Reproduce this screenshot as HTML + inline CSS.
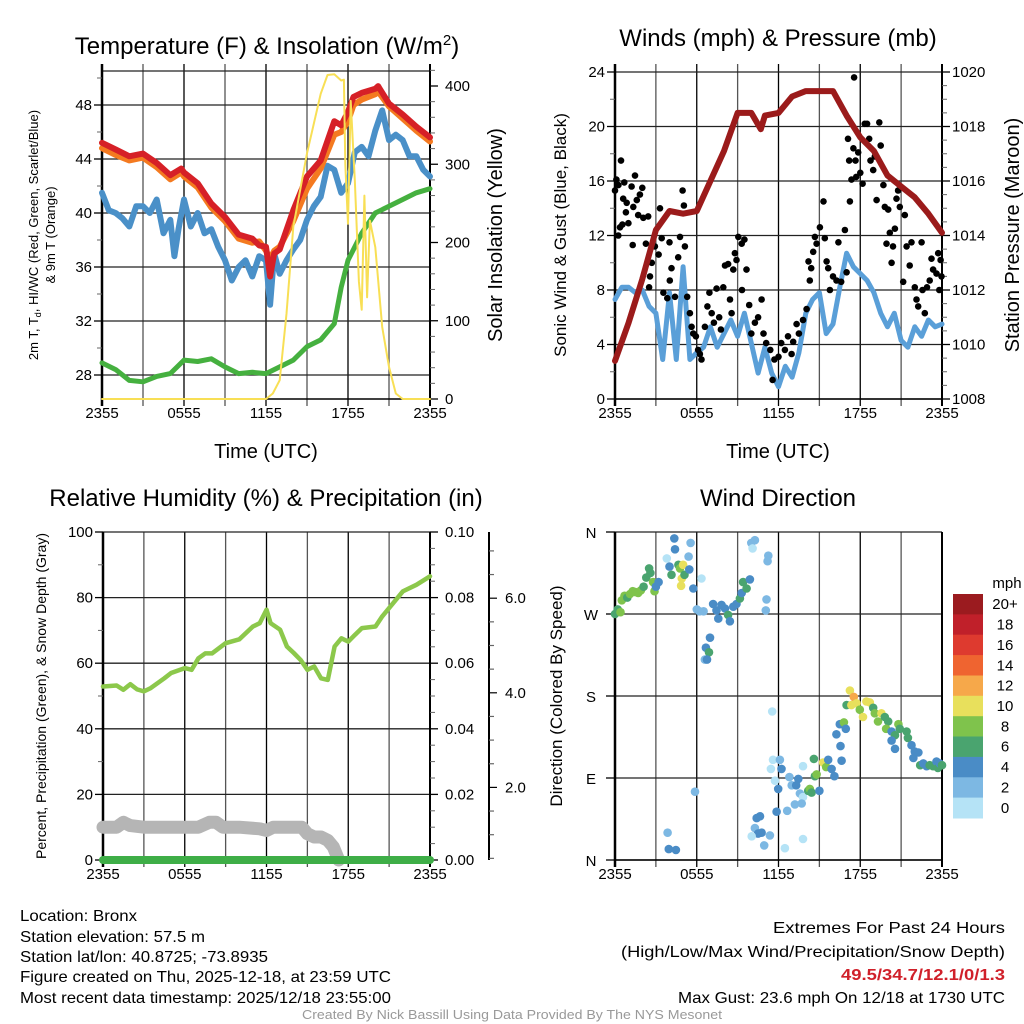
<!DOCTYPE html>
<html><head><meta charset="utf-8"><style>
html,body{margin:0;padding:0;background:#fff}
svg{display:block;font-family:"Liberation Sans",sans-serif}
</style></head><body>
<svg id="fig" width="1024" height="1024" viewBox="0 0 1024 1024" xmlns="http://www.w3.org/2000/svg">
<g id="g1"></g>
<g id="g2"></g>
<g id="g3"></g>
<g id="g4"></g>
<text x="267" y="54" font-size="24" text-anchor="middle">Temperature (F) &amp; Insolation (W/m<tspan dy="-9" font-size="15">2</tspan><tspan dy="9">)</tspan></text>
<text x="778" y="46" font-size="24" text-anchor="middle">Winds (mph) &amp; Pressure (mb)</text>
<text x="266" y="506" font-size="24" text-anchor="middle">Relative Humidity (%) &amp; Precipitation (in)</text>
<text x="778" y="506" font-size="24" text-anchor="middle">Wind Direction</text>
<g font-size="16">
<text x="20" y="921" textLength="117" lengthAdjust="spacingAndGlyphs">Location: Bronx</text>
<text x="20" y="942" textLength="185" lengthAdjust="spacingAndGlyphs">Station elevation: 57.5 m</text>
<text x="20" y="962" textLength="248" lengthAdjust="spacingAndGlyphs">Station lat/lon: 40.8725; -73.8935</text>
<text x="20" y="982" textLength="371" lengthAdjust="spacingAndGlyphs">Figure created on Thu, 2025-12-18, at 23:59 UTC</text>
<text x="20" y="1003" textLength="371" lengthAdjust="spacingAndGlyphs">Most recent data timestamp: 2025/12/18 23:55:00</text>
</g>
<g font-size="16">
<text x="773" y="933" textLength="232" lengthAdjust="spacingAndGlyphs">Extremes For Past 24 Hours</text>
<text x="621" y="957" textLength="384" lengthAdjust="spacingAndGlyphs">(High/Low/Max Wind/Precipitation/Snow Depth)</text>
<text x="841" y="980" fill="#d0202a" font-weight="bold" textLength="164" lengthAdjust="spacingAndGlyphs">49.5/34.7/12.1/0/1.3</text>
<text x="678" y="1003" textLength="327" lengthAdjust="spacingAndGlyphs">Max Gust: 23.6 mph On 12/18 at 1730 UTC</text>
</g>
<text x="302" y="1019" font-size="13" fill="#999" textLength="420" lengthAdjust="spacingAndGlyphs">Created By Nick Bassill Using Data Provided By The NYS Mesonet</text>
</svg>
<script>
// ---------- DATA ----------
const xTickLabels = ["2355","0555","1155","1755","2355"];
// Panel 1
const tempTicks = [28,32,36,40,44,48];
const solarTicks = [0,100,200,300,400];
const redT = [0,1,2,3,4,5,5.8,6,7,8,9,10,11,11.5,12,12.3,12.6,13,14,15,16,17,17.5,18,18.4,19,20,20.2,21,22,23,24];
const redV = [45.2,44.7,44.2,44.4,43.7,42.8,43.3,43.0,42.2,40.7,39.7,38.4,38.1,37.6,37.5,35.3,37.0,37.3,40.2,42.7,43.9,46.8,46.5,47.5,48.6,48.9,49.2,49.4,48.1,47.3,46.4,45.6];
const orangeV = [44.8,44.3,43.9,44.1,43.4,42.5,43.0,42.7,41.9,40.4,39.4,38.1,37.8,37.9,37.2,36.6,37.2,37.5,39.4,41.8,43.3,45.8,46.0,46.8,48.0,48.4,48.8,49.0,47.9,47.0,46.1,45.3];
const blueT = [0,0.5,1,1.5,2,2.5,3,3.5,4,4.5,5,5.3,5.6,6,6.5,7,7.5,8,8.5,9,9.5,10,10.5,11,11.5,12,12.3,12.6,13,13.5,14,14.5,15,15.5,16,16.5,17,17.5,18,18.5,19,19.5,20,20.5,21,21.5,22,22.5,23,23.5,24];
const blueV = [41.5,40.2,40.0,39.6,39.0,40.5,40.5,40.0,41.0,38.5,39.5,36.8,38.8,41.0,39.0,40.0,38.5,38.8,37.5,36.5,35.0,36.0,36.5,35.3,36.8,36.5,33.2,37.0,35.5,36.5,37.3,38.0,39.5,40.5,41.2,43.5,43.2,41.5,42.2,44.5,44.9,44.2,46.1,47.6,45.4,45.8,45.4,44.2,44.2,43.2,42.7];
const dewT = [0,1,2,3,4,5,6,7,8,9,10,11,12,13,14,15,16,17,17.5,18,19,20,21,22,23,24];
const dewV = [28.9,28.4,27.6,27.5,27.9,28.1,29.1,29.0,29.2,28.6,28.1,28.2,28.1,28.6,29.1,30.1,30.6,31.8,34.5,36.5,38.5,40.0,40.5,41.0,41.5,41.8];
const solarT = [0,12,12.5,13,13.5,14,15,16,16.5,17,17.5,17.7,17.8,18,18.2,18.5,18.8,19,19.2,19.4,19.6,20,20.5,21,21.5,22,24];
const solarV = [0,0,7,24,109,220,314,390,414,415,407,408,300,224,381,280,150,114,260,130,228,194,92,41,7,0,0];
// Panel 2
const windTicks = [0,4,8,12,16,20,24];
const presTicks = [1008,1010,1012,1014,1016,1018,1020];
const presT = [0,1,2,3,4,5,6,7,8,9,10,10.7,11,12,13,14,15,16,17,18,19,20,21,22,23,24];
const presV = [1009.4,1010.8,1012.4,1014.2,1014.9,1014.8,1014.9,1016.0,1017.1,1018.5,1018.5,1017.9,1018.4,1018.5,1019.1,1019.3,1019.3,1019.3,1018.4,1017.6,1017.1,1016.2,1015.8,1015.4,1014.8,1014.1];
const sonicT = [0,0.5,1,1.5,2,2.5,3,3.5,4,4.5,5,5.5,6,6.5,7,7.5,8,8.5,9,9.5,10,10.5,11,11.5,12,12.5,13,13.5,14,14.5,15,15.5,16,16.5,17,17.5,18,18.5,19,19.5,20,20.5,21,21.5,22,22.5,23,23.5,24];
const sonicV = [7.3,8.2,8.2,7.8,8.0,6.8,6.3,2.9,7.8,2.9,9.7,2.9,3.4,3.8,5.3,3.8,4.8,5.8,4.6,6.3,4.1,1.9,3.8,1.9,0.9,2.4,1.6,3.4,6.3,7.3,7.8,4.8,5.5,8.2,10.7,9.7,9.2,8.7,7.8,6.3,5.3,6.3,4.3,3.8,5.3,4.6,5.8,5.3,5.5];
const gustT = [0,0.1,0.25,0.44,0.37,0.24,0.54,0.68,0.6,0.86,0.8,0.98,1.22,1.3,1.34,1.47,1.6,1.7,1.83,2.0,2.08,2.27,2.44,2.57,2.5,2.7,2.93,3.2,3.3,3.43,3.55,3.84,4.0,4.15,4.02,4.4,4.64,4.77,4.96,5.06,5.13,5.3,5.5,5.62,5.75,5.94,6.1,6.23,6.35,6.6,6.78,6.93,7.1,7.26,7.46,7.65,7.77,7.95,8.07,8.3,8.44,8.56,8.68,8.8,8.92,9.05,9.3,9.5,9.65,9.32,9.85,10.0,10.27,10.5,10.76,10.9,11.1,11.4,11.57,11.7,12.0,12.2,12.47,12.7,12.96,13.08,13.33,13.5,13.8,14.06,14.2,14.4,14.3,14.55,14.67,14.8,15.04,15.3,15.4,15.53,15.65,15.77,16.0,16.26,16.4,16.6,16.87,17.0,17.1,17.19,17.24,17.36,17.5,17.55,17.65,17.7,17.85,18.0,18.17,18.33,18.5,18.66,18.75,18.95,19.07,19.2,19.4,19.5,19.7,19.8,20.05,19.93,20.17,20.3,20.4,20.54,20.66,20.78,20.9,21.15,21.27,21.4,21.63,21.76,22.0,22.13,22.25,22.5,22.57,22.74,22.9,23.1,23.23,23.35,23.6,23.72,23.8,23.9,23.96];
const gustV = [15.3,16.1,15.7,17.5,12.6,12.0,12.8,15.9,14.7,14.4,13.7,12.9,15.6,11.3,14.1,16.4,14.6,13.5,15.0,15.5,13.3,11.4,13.4,9.0,8.2,10.0,11.2,10.6,14.0,11.8,7.8,7.4,11.5,9.6,8.7,7.5,10.4,11.9,15.3,14.2,11.2,7.5,6.3,5.3,4.8,4.6,3.6,3.3,2.9,5.3,6.8,7.8,6.3,5.6,8.1,6.0,5.1,8.2,9.8,9.9,7.3,6.3,9.5,10.7,10.2,11.9,11.4,11.7,9.5,8.0,6.9,4.8,5.6,6.0,7.3,4.8,4.1,3.6,1.4,2.9,3.1,4.1,3.6,4.6,3.3,4.2,5.5,4.8,5.8,6.6,10.1,9.6,8.7,10.8,11.9,11.4,12.6,14.5,11.8,10.1,9.6,8.0,9.0,8.7,11.5,8.6,12.4,9.3,19.1,17.5,14.5,16.1,18.4,23.6,17.5,16.3,18.1,16.6,15.8,20.2,20.2,19.1,17.5,16.8,17.8,14.6,20.3,18.6,15.7,14.1,13.9,11.4,12.2,10.0,11.2,12.5,14.7,15.3,14.1,8.6,13.5,11.2,9.8,11.5,8.2,7.3,6.8,11.5,8.0,6.3,8.2,8.7,10.3,9.5,9.2,10.7,8.0,10.2,9.0];
// Panel 3
const rhTicks = [0,20,40,60,80,100];
const precipTicks = ["0.00","0.02","0.04","0.06","0.08","0.10"];
const snowTicks = [2,4,6];
const rhT = [0,1,1.5,2,2.5,3,3.5,4,4.5,5,6,6.5,7,7.5,8,9,10,11,11.5,12,12.3,13,13.5,14,14.5,15,15.5,16,16.5,17,17.5,18,18.5,19,20,20.5,21,22,23,24];
const rhV = [52.9,53.2,51.9,53.6,52.0,51.4,52.4,53.9,55.4,57.0,58.5,58.0,61.5,63.0,63.0,66.1,67.3,71.2,72.2,76.3,72.2,70.2,65.1,63.1,61.0,58.0,59.0,55.4,54.9,65.1,67.6,66.6,68.7,70.7,71.2,74.3,76.8,81.9,83.9,86.5];
const snowT = [0,1,1.5,2,3,5,7,7.8,8.3,8.8,10,11.5,12,12.5,14,14.6,15,15.5,16,16.5,16.9,17.3];
const snowV = [10,10,11.5,10.5,10,10,10,11.5,11.5,10,10,9.5,9,10,10,10,8,7,7,6,4,0];
const precipT = [0,24];
const precipV = [0,0];
// Panel 4
const dirLabels = ["N","E","S","W","N"];
const dirT = [0,0.2,0.4,0.5,0.7,0.9,1.1,1.3,1.5,1.7,1.9,2.1,2.3,2.5,2.6,2.8,2.9,3.0,3.2,3.8,4.0,4.15,4.35,4.4,4.65,4.77,5.0,4.9,4.85,5.1,5.4,5.55,5.45,5.75,6.35,6.0,6.2,6.5,5.87,3.86,3.95,4.47,6.97,6.67,6.6,6.9,6.75,7.2,7.45,7.58,7.82,8.07,8.3,8.43,8.68,8.92,9.17,9.3,9.4,9.66,9.9,10.0,10.27,10.1,11.12,11.07,11.25,11.2,11.54,11.6,11.44,12.1,12.22,11.74,11.98,11.86,12.8,12.97,13.45,13.3,13.57,13.8,13.7,13.2,13.8,12.64,10.4,10.64,10.27,10.5,10.76,10.03,10.95,11.37,12.47,13.8,14.18,14.3,14.43,15.0,14.67,14.8,14.6,15.27,15.5,15.65,15.9,16.1,16.25,16.5,16.8,16.94,16.55,16.63,17.0,17.24,17.53,17.73,17.35,17.97,18.2,18.45,18.7,18.95,19.07,19.3,19.55,19.8,20.05,19.9,20.3,20.55,20.8,20.9,21.4,21.5,20.3,20.55,21.76,22.0,21.9,22.27,22.4,22.63,22.87,23.1,23.35,23.6,23.7,23.83,24];
const dirDeg = [270,275,272,285,290,288,292,295,294,293,296,300,310,320,315,305,295,300,305,331,322,313,353,341,324,320,324,309,301,313,333,348,319,298,309,275,273,273,75,30,12,11,244,233,220,228,220,281,274,265,280,276,269,262,278,281,287,293,305,298,308,348,351,342,286,274,334,328,163,110,100,110,100,87,78,53,91,82,89,82,73,69,62,61,103,54,46,48,35,29,30,26,16,27,13,23,76,78,74,76,92,94,111,107,102,110,100,92,138,149,151,144,125,109,170,186,179,172,170,165,157,174,173,167,161,152,161,157,152,144,141,137,149,144,141,134,131,122,126,119,112,118,104,106,103,104,103,108,101,106,104];
const dirSpd = [7,6,8,8,8,6,8,8,8,8,8,7,6,6,7,8,8,4,4,0,4,6,4,4,6,8,10,10,10,6,2,2,4,4,0,2,2,2,2,2,4,4,4,4,2,6,4,4,4,4,4,4,6,4,4,4,6,4,6,6,4,2,2,0,2,2,2,2,0,0,0,2,4,0,4,4,2,2,4,4,2,0,2,2,0,2,4,4,2,4,4,0,2,2,0,0,6,8,6,4,6,8,6,10,8,4,4,4,4,4,8,4,4,4,6,10,12,10,10,8,10,10,10,6,8,8,10,6,6,8,4,6,8,6,6,6,4,4,4,4,4,4,6,4,4,6,6,4,6,4,6];
const speedBins = ["0","2","4","6","8","10","12","14","16","18","20+"];
const binColors = ["#b5e3f6","#7db8e3","#4a8cc6","#4aa46f","#7fc34c","#e8e05c","#f6a84a","#ef6430","#de3a2f","#c0202a","#9b1b1f"];

// ---------- HELPERS ----------
const NS = "http://www.w3.org/2000/svg";
function mk(parent, tag, attrs, txt){
  const e = document.createElementNS(NS, tag);
  for (const k in attrs) e.setAttribute(k, attrs[k]);
  if (txt !== undefined) e.textContent = txt;
  parent.appendChild(e); return e;
}
function pathFrom(ts, vs, sx, sy){
  return ts.map((t,i)=>(i?"L":"M")+sx(t).toFixed(1)+","+sy(vs[i]).toFixed(1)).join("");
}
function frame(g, x0, x1, yTop, yBot, hLines, gridTop){
  for (let i=0;i<=8;i++){
    const x = x0 + (x1-x0)*i/8;
    const l = mk(g,"line",{x1:x,x2:x,y1:gridTop,y2:yBot+7,stroke:(i%2?"#555":"#000"),"stroke-width":1.3});
    
    
  }
  hLines.forEach(y=>{
    const l = mk(g,"line",{x1:x0,x2:x1,y1:y,y2:y,stroke:"#222","stroke-width":1.3});
    
    
  });
  mk(g,"line",{x1:x0,x2:x0,y1:gridTop,y2:yBot+7,stroke:"#000","stroke-width":2.5});
  mk(g,"line",{x1:x1,x2:x1,y1:gridTop,y2:yBot+7,stroke:"#000","stroke-width":2});
  mk(g,"line",{x1:x0,x2:x1,y1:yBot,y2:yBot,stroke:"#000","stroke-width":1.5});
  xTickLabels.forEach((s,i)=>{
    const t = mk(g,"text",{x:x0+(x1-x0)*i/4,y:yBot+19,"font-size":15,"text-anchor":"middle"},s);
    
    
  });
}
function leftTicks(g, x0, vals, sy, fmt, minors){
  vals.forEach(v=>{
    mk(g,"line",{x1:x0-8,x2:x0,y1:sy(v),y2:sy(v),stroke:"#000","stroke-width":1.3});
    const t = mk(g,"text",{x:x0-10,y:sy(v)+5,"font-size":15,"text-anchor":"end"},fmt(v));
    
    
  });
  (minors||[]).forEach(v=>mk(g,"line",{x1:x0-5,x2:x0,y1:sy(v),y2:sy(v),stroke:"#666","stroke-width":1}));
}
function rightTicks(g, x1, vals, sy, fmt, minors, lx){
  vals.forEach(v=>{
    mk(g,"line",{x1:x1,x2:x1+8,y1:sy(v),y2:sy(v),stroke:"#000","stroke-width":1.3});
    const t = mk(g,"text",{x:lx,y:sy(v)+5,"font-size":15},fmt(v));
    
    
  });
  (minors||[]).forEach(v=>mk(g,"line",{x1:x1,x2:x1+5,y1:sy(v),y2:sy(v),stroke:"#666","stroke-width":1}));
}
function vtitle(g, x, y, size, txt, name){
  const t = mk(g,"text",{x:x,y:y,"font-size":size,"text-anchor":"middle",transform:`rotate(-90 ${x} ${y})`},txt);
  
  
  return t;
}
function line(g, d, color, w, name){
  const p = mk(g,"path",{d:d,fill:"none",stroke:color,"stroke-width":w,"stroke-linejoin":"round","stroke-linecap":"round"});
  
  
  return p;
}

// ---------- PANEL 1 ----------
(function(){
  const g = document.getElementById("g1");
  const x0=102,x1=430,yb=399;
  const sx = h=>x0+(x1-x0)*h/24;
  const sy = v=>105+(48-v)*13.5;
  const ss = v=>399-v*0.7825;
  frame(g,x0,x1,71,yb,tempTicks.map(sy).concat([71]),64);
  const mins=[]; for(let v=27;v<=50;v++) if(v%2===0 && v%4!==0) mins.push(v);
  leftTicks(g,x0,tempTicks,sy,v=>String(v),mins);
  const smin=[]; for(let v=20;v<=420;v+=20) if(v%100) smin.push(v);
  rightTicks(g,x1,solarTicks,ss,v=>String(v),smin,445);
  line(g,pathFrom(dewT,dewV,sx,sy),"#45b03f",5,"dewpoint-line");
  line(g,pathFrom(blueT,blueV,sx,sy),"#4a90c8",6,"windchill-line");
  line(g,pathFrom(redT,orangeV,sx,sy),"#f47a20",6,"temp-9m-line");
  line(g,pathFrom(redT,redV,sx,sy),"#d62027",6,"temp-2m-line");
  line(g,pathFrom(solarT,solarV,sx,ss),"#f8df55",2,"solar-insolation-line");
  const t1 = vtitle(g,38,235,13,"","temperature-axis-title");
  t1.innerHTML = '2m T, T<tspan font-size="9" dy="3">d</tspan><tspan dy="-3">, HI/WC (Red, Green, Scarlet/Blue)</tspan>';
  vtitle(g,55,235,13,"& 9m T (Orange)","temperature-axis-title-2");
  vtitle(g,502,235,20,"Solar Insolation (Yellow)","solar-axis-title");
  const xt = mk(g,"text",{x:266,y:458,"font-size":20,"text-anchor":"middle"},"Time (UTC)");
  
  
})();

// ---------- PANEL 2 ----------
(function(){
  const g = document.getElementById("g2");
  const x0=615,x1=942,yb=399;
  const sx = h=>x0+(x1-x0)*h/24;
  const sy = v=>399-v*13.625;
  const sp = v=>399-(v-1008)*27.25;
  frame(g,x0,x1,72,yb,windTicks.map(sy),64);
  const mins=[]; for(let v=2;v<24;v+=4) mins.push(v);
  leftTicks(g,x0,windTicks,sy,v=>String(v),mins);
  const pm=[]; for(let v=1008.5;v<1020.5;v+=0.5) if(v%2) pm.push(v);
  rightTicks(g,x1,presTicks,sp,v=>String(v),pm,952);
  line(g,pathFrom(sonicT,sonicV,sx,sy),"#5a9fd8",5,"sonic-wind-line");
  gustT.forEach((t,i)=>{
    const c = mk(g,"circle",{cx:sx(t).toFixed(1),cy:sy(gustV[i]).toFixed(1),r:3.3,fill:"#000"});
    
    
  });
  line(g,pathFrom(presT,presV,sx,sp),"#9b1b1b",6,"pressure-line");
  vtitle(g,566,235,17,"Sonic Wind & Gust (Blue, Black)","wind-axis-title");
  vtitle(g,1019,235,20,"Station Pressure (Maroon)","pressure-axis-title");
  const xt = mk(g,"text",{x:778,y:458,"font-size":20,"text-anchor":"middle"},"Time (UTC)");
  
  
})();

// ---------- PANEL 3 ----------
(function(){
  const g = document.getElementById("g3");
  const x0=103,x1=430,yb=860;
  const sx = h=>x0+(x1-x0)*h/24;
  const sy = v=>860-v*3.28;
  frame(g,x0,x1,532,yb,rhTicks.map(sy),532);
  leftTicks(g,x0,rhTicks,sy,v=>String(v),[10,30,50,70,90]);
  rightTicks(g,x1,rhTicks,sy,(v)=>precipTicks[rhTicks.indexOf(v)],[5,10,15,25,30,35,45,50,55,65,70,75,85,90,95],445);
  const sa = v=>882-v*47.3;
  mk(g,"line",{x1:489,x2:489,y1:532,y2:860,stroke:"#000","stroke-width":2});
  for(let v=0.5;v<=7;v+=0.5){ if(sa(v)<532||sa(v)>860) continue;
    mk(g,"line",{x1:489,x2:489+(v%2===0?8:5),y1:sa(v),y2:sa(v),stroke:v%2===0?"#000":"#666","stroke-width":1.2}); }
  snowTicks.forEach(v=>{
    const t = mk(g,"text",{x:505,y:sa(v)+5,"font-size":15},v.toFixed(1));
    
    
  });
  line(g,pathFrom(snowT,snowV,sx,sy),"#b5b5b5",13,"snow-depth-line");
  line(g,pathFrom(precipT,precipV,sx,sy),"#3eae47",8,"precipitation-line");
  line(g,pathFrom(rhT,rhV,sx,sy),"#8cc84b",4.5,"relative-humidity-line");
  vtitle(g,46,696,14,"Percent, Precipitation (Green), & Snow Depth (Gray)","humidity-axis-title");
})();

// ---------- PANEL 4 ----------
(function(){
  const g = document.getElementById("g4");
  const x0=615,x1=942,yb=860;
  const sx = h=>x0+(x1-x0)*h/24;
  const sy = d=>860-d*328/360;
  frame(g,x0,x1,532,yb,[0,90,180,270,360].map(sy),532);
  dirLabels.forEach((s,i)=>{
    mk(g,"line",{x1:x0-9,x2:x0,y1:sy(i*90),y2:sy(i*90),stroke:"#000","stroke-width":1.3});
    const t = mk(g,"text",{x:591,y:sy(i*90)+6,"font-size":15,"text-anchor":"middle"},s);
    
    
  });
  dirT.forEach((t,i)=>{
    const b = Math.min(10, Math.floor(dirSpd[i]/2));
    const c = mk(g,"circle",{cx:sx(t).toFixed(1),cy:sy(dirDeg[i]).toFixed(1),r:4.3,fill:binColors[b]});
    
    
  });
  vtitle(g,562,696,17,"Direction (Colored By Speed)","direction-axis-title");
  const cb0=594, step=(818-594)/11;
  speedBins.forEach((s,i)=>{
    const k = 10-i;
    const r = mk(g,"rect",{x:953,y:(cb0+i*step).toFixed(1),width:30,height:(step+0.5).toFixed(1),fill:binColors[k]});
    
    
    const t = mk(g,"text",{x:1005,y:(cb0+i*step+step/2+5).toFixed(1),"font-size":15,"text-anchor":"middle"},speedBins[k]);
    
    
  });
  const u = mk(g,"text",{x:1007,y:588,"font-size":15,"text-anchor":"middle"},"mph");
  
  
})();
</script>
</body></html>
